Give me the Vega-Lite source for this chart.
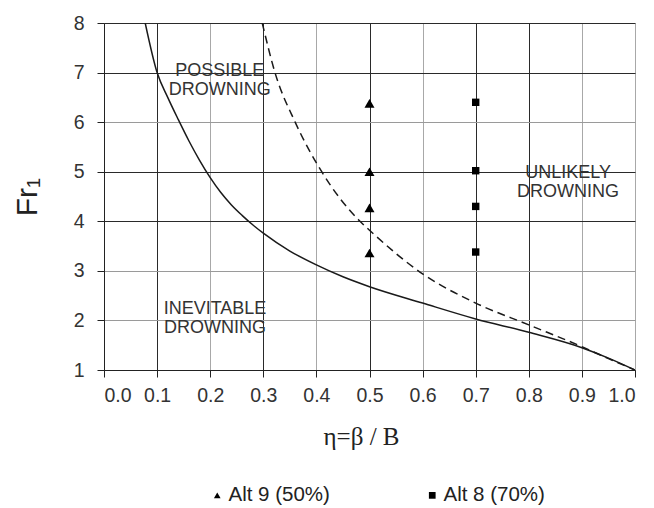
{
  "$schema": "https://vega.github.io/schema/vega-lite/v6.json",
  "autosize": "none",
  "width": 531,
  "height": 347,
  "padding": {"left": 104, "top": 23, "right": 19, "bottom": 138},
  "background": "white",
  "config": {
    "view": {"stroke": null},
    "axis": {
      "labelFont": "Liberation Sans",
      "labelFontSize": 19.5,
      "labelColor": "#333",
      "tickColor": "#222",
      "tickSize": 7,
      "domainColor": "#222",
      "gridWidth": 1,
      "titleColor": "#222",
      "titleFontWeight": "normal"
    }
  },
  "datasets": {
    "solid": [
      {"eta": 0.0776, "fr": 8.0},
      {"eta": 0.1, "fr": 7.0},
      {"eta": 0.12, "fr": 6.5},
      {"eta": 0.14, "fr": 6.05},
      {"eta": 0.16, "fr": 5.62},
      {"eta": 0.18, "fr": 5.23},
      {"eta": 0.2, "fr": 4.88},
      {"eta": 0.22, "fr": 4.58},
      {"eta": 0.24, "fr": 4.33},
      {"eta": 0.26, "fr": 4.12},
      {"eta": 0.28, "fr": 3.93},
      {"eta": 0.3, "fr": 3.76},
      {"eta": 0.35, "fr": 3.4},
      {"eta": 0.4, "fr": 3.12},
      {"eta": 0.45, "fr": 2.88},
      {"eta": 0.5, "fr": 2.68},
      {"eta": 0.6, "fr": 2.35},
      {"eta": 0.7, "fr": 2.03},
      {"eta": 0.8, "fr": 1.76},
      {"eta": 0.9, "fr": 1.45},
      {"eta": 0.95, "fr": 1.24},
      {"eta": 1.0, "fr": 1.0}
    ],
    "dashed": [
      {"eta": 0.298, "fr": 8.0},
      {"eta": 0.322, "fr": 7.0},
      {"eta": 0.36, "fr": 6.0},
      {"eta": 0.41, "fr": 5.0},
      {"eta": 0.482, "fr": 4.0},
      {"eta": 0.5, "fr": 3.82},
      {"eta": 0.6, "fr": 2.94},
      {"eta": 0.7, "fr": 2.35},
      {"eta": 0.8, "fr": 1.91},
      {"eta": 0.9, "fr": 1.47},
      {"eta": 0.95, "fr": 1.23},
      {"eta": 1.0, "fr": 1.0}
    ],
    "points": [
      {"eta": 0.5, "fr": 6.38, "series": "Alt 9 (50%)"},
      {"eta": 0.5, "fr": 5.0, "series": "Alt 9 (50%)"},
      {"eta": 0.5, "fr": 4.27, "series": "Alt 9 (50%)"},
      {"eta": 0.5, "fr": 3.36, "series": "Alt 9 (50%)"},
      {"eta": 0.7, "fr": 6.4, "series": "Alt 8 (70%)"},
      {"eta": 0.7, "fr": 5.02, "series": "Alt 8 (70%)"},
      {"eta": 0.7, "fr": 4.3, "series": "Alt 8 (70%)"},
      {"eta": 0.7, "fr": 3.38, "series": "Alt 8 (70%)"}
    ],
    "labels": [
      {"eta": 0.218, "fr": 7.03, "text": "POSSIBLE\nDROWNING"},
      {"eta": 0.209, "fr": 2.23, "text": "INEVITABLE\nDROWNING"},
      {"eta": 0.874, "fr": 4.97, "text": "UNLIKELY\nDROWNING"}
    ]
  },
  "layer": [
    {
      "data": {"name": "solid"},
      "mark": {"type": "line", "color": "#1a1a1a", "strokeWidth": 1.5, "interpolate": "monotone", "clip": true},
      "encoding": {
        "x": {
          "field": "eta", "type": "quantitative",
          "scale": {"domain": [0, 1], "nice": false},
          "axis": {
            "values": [0, 0.1, 0.2, 0.3, 0.4, 0.5, 0.6, 0.7, 0.8, 0.9, 1.0],
            "format": ".1f",
            "grid": true,
            "gridColor": {"condition": {"test": "indexof([2,4,6,9,10], round(datum.value*10)) >= 0", "value": "#a8a8a8"}, "value": "#2a2a2a"},
            "labelPadding": 9,
            "title": "η=β / B",
            "titleFont": "Liberation Serif",
            "titleFontSize": 25,
            "titlePadding": 20,
            "titleX": 257
          }
        },
        "y": {
          "field": "fr", "type": "quantitative",
          "scale": {"domain": [1, 8], "nice": false, "zero": false},
          "axis": {
            "values": [1, 2, 3, 4, 5, 6, 7, 8],
            "grid": true,
            "gridColor": {"condition": {"test": "indexof([2,3,6], datum.value) >= 0", "value": "#9a9a9a"}, "value": "#2a2a2a"},
            "labelPadding": 13,
            "title": "Fr₁",
            "titleFont": "Liberation Sans",
            "titleFontSize": 30,
            "titlePadding": 31
          }
        }
      }
    },
    {
      "data": {"name": "dashed"},
      "mark": {"type": "line", "color": "#1a1a1a", "strokeWidth": 1.5, "strokeDash": [8, 5], "interpolate": "monotone", "clip": true},
      "encoding": {
        "x": {"field": "eta", "type": "quantitative"},
        "y": {"field": "fr", "type": "quantitative"}
      }
    },
    {
      "data": {"name": "points"},
      "transform": [{"filter": "datum.series === 'Alt 9 (50%)'"}],
      "mark": {"type": "point", "filled": true, "color": "black", "opacity": 1, "size": 100},
      "encoding": {
        "x": {"field": "eta", "type": "quantitative"},
        "y": {"field": "fr", "type": "quantitative"},
        "shape": {
          "field": "series", "type": "nominal",
          "scale": {"domain": ["Alt 9 (50%)", "Alt 8 (70%)"], "range": ["triangle-up", "square"]},
          "legend": {
            "title": null,
            "orient": "none",
            "direction": "horizontal",
            "legendX": 103,
            "legendY": 462,
            "labelFont": "Liberation Sans",
            "labelFontSize": 20.5,
            "labelColor": "#222",
            "symbolSize": 45,
            "symbolFillColor": "black",
            "symbolStrokeColor": "black",
            "labelOffset": 1,
            "columnPadding": 92
          }
        }
      }
    },
    {
      "data": {"name": "points"},
      "transform": [{"filter": "datum.series === 'Alt 8 (70%)'"}],
      "mark": {"type": "point", "filled": true, "color": "black", "opacity": 1, "size": 55},
      "encoding": {
        "x": {"field": "eta", "type": "quantitative"},
        "y": {"field": "fr", "type": "quantitative"},
        "shape": {"field": "series", "type": "nominal"}
      }
    },
    {
      "data": {"name": "labels"},
      "mark": {"type": "text", "font": "Liberation Sans", "fontSize": 18, "color": "#333", "lineBreak": "\n", "lineHeight": 19, "baseline": "middle", "align": "center"},
      "encoding": {
        "x": {"field": "eta", "type": "quantitative"},
        "y": {"field": "fr", "type": "quantitative"},
        "text": {"field": "text"}
      }
    }
  ]
}
